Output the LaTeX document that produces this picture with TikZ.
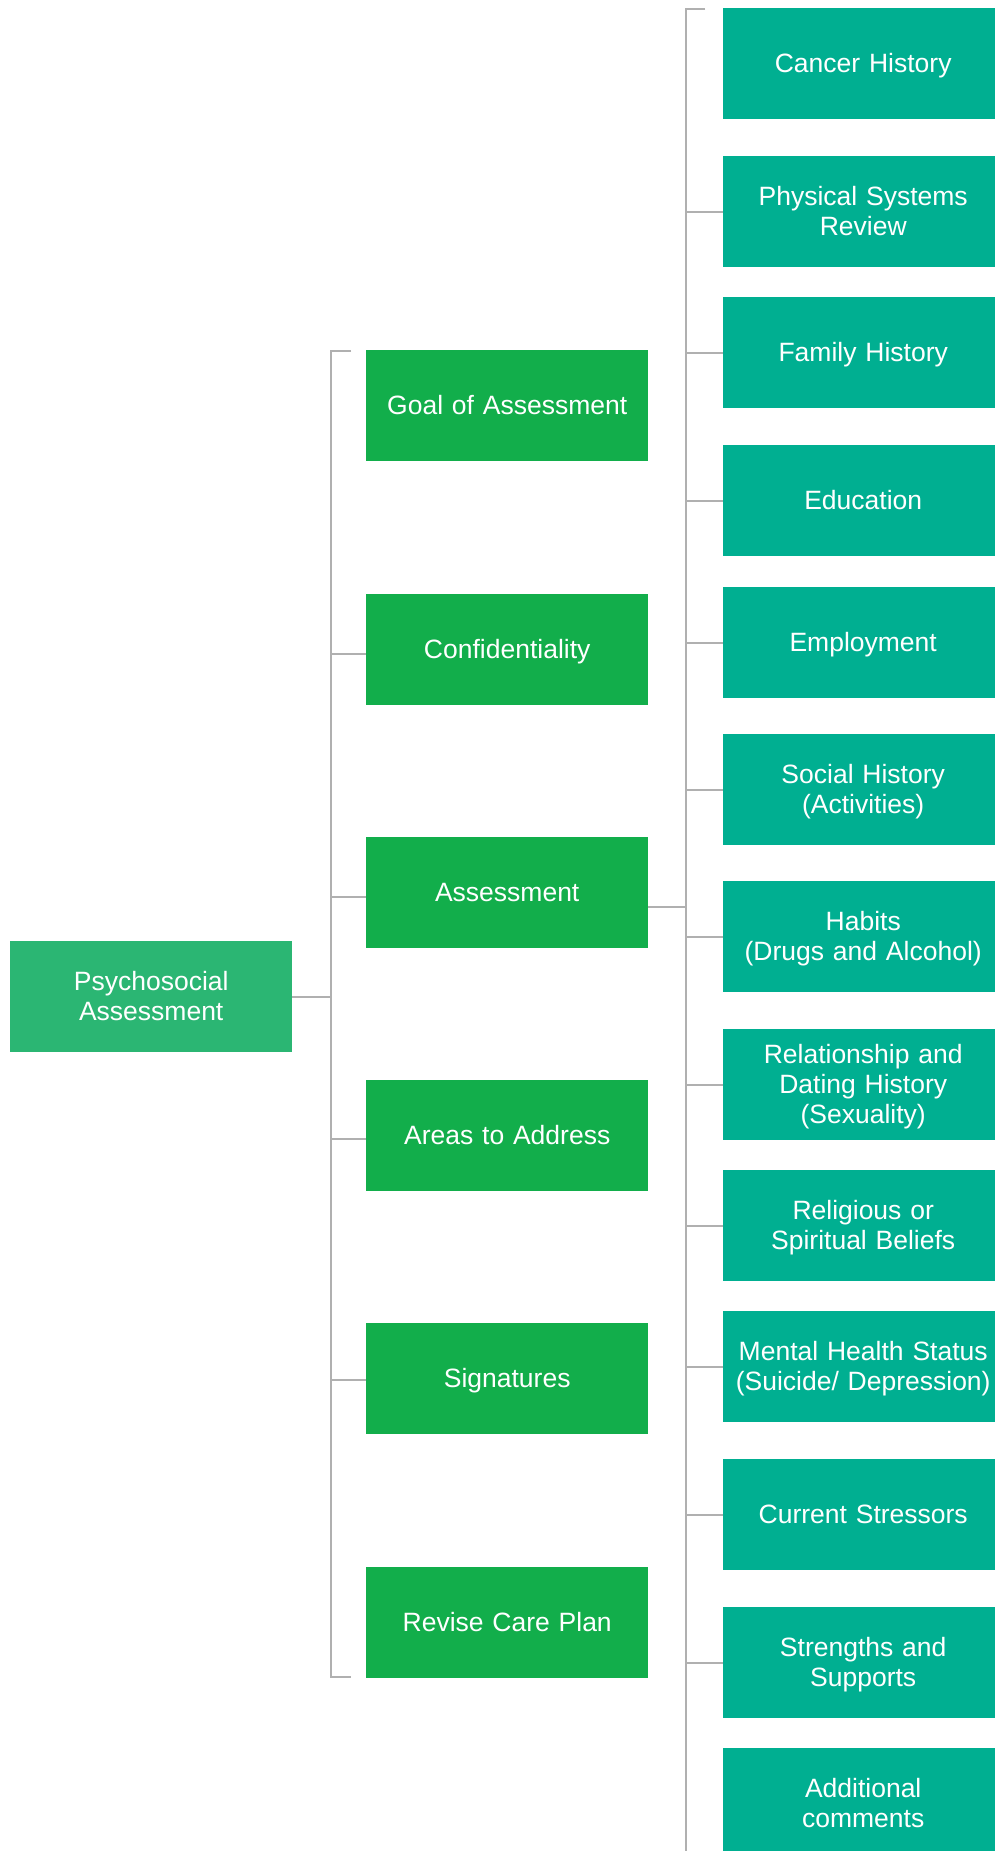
\documentclass[tikz,border=0pt]{standalone}
\usepackage{fontspec}
\setmainfont[WordSpace=0.8]{Liberation Sans}
\definecolor{rcol}{RGB}{0,175,145}
\definecolor{mcol}{RGB}{18,174,75}
\definecolor{lcol}{RGB}{43,182,115}
\definecolor{linecol}{RGB}{176,176,176}
\newcommand\boxstrut{\rule[-5pt]{0pt}{28pt}}
\begin{document}
\begin{tikzpicture}[x=1pt,y=-1pt,
  box/.style={rectangle, inner sep=0pt, minimum height=111pt, align=center, text=white,
              font=\fontsize{26.5}{30}\selectfont, anchor=north west,
              execute at begin node=\boxstrut, execute at end node=\boxstrut},
  rbox/.style={box, fill=rcol, minimum width=280pt, text width=280pt},
  mbox/.style={box, fill=mcol, minimum width=282pt, text width=282pt},
  lbox/.style={box, fill=lcol, minimum width=282pt, text width=282pt},
  link/.style={draw=linecol, line width=2pt}]
\useasboundingbox (0,0) rectangle (995,1851);
\fill[white] (0,0) rectangle (995,1851);

% left
\node[lbox] (psy) at (10,941) {Psychosocial\\Assessment};

% middle
\node[mbox] (goal)   at (366,350)  {Goal of Assessment};
\node[mbox] (conf)   at (366,594)  {Confidentiality};
\node[mbox] (assess) at (366,837)  {Assessment};
\node[mbox] (areas)  at (366,1080) {Areas to Address};
\node[mbox] (sign)   at (366,1323) {Signatures};
\node[mbox] (revise) at (366,1567) {Revise Care Plan};

% right
\node[rbox] (r1)  at (723,8)    {Cancer History};
\node[rbox] (r2)  at (723,156)  {Physical Systems\\Review};
\node[rbox] (r3)  at (723,297)  {Family History};
\node[rbox] (r4)  at (723,445)  {Education};
\node[rbox] (r5)  at (723,587)  {Employment};
\node[rbox] (r6)  at (723,734)  {Social History\\(Activities)};
\node[rbox] (r7)  at (723,881)  {Habits\\(Drugs and Alcohol)};
\node[rbox] (r8)  at (723,1029) {Relationship and\\Dating History\\(Sexuality)};
\node[rbox] (r9)  at (723,1170) {Religious or\\Spiritual Beliefs};
\node[rbox] (r10) at (723,1311) {Mental Health Status\\(Suicide/ Depression)};
\node[rbox] (r11) at (723,1459) {Current Stressors};
\node[rbox] (r12) at (723,1607) {Strengths and\\Supports};
\node[rbox] (r13) at (723,1748) {Additional\\comments};

% middle bus
\coordinate (mtop) at (331,351);
\coordinate (mbot) at (331,1677);
\draw[link] (351,351) -- (mtop) -- (mbot) -- (351,1677);
\draw[link] (psy.east) -- (mtop |- psy.east);
\draw[link] (mtop |- 0,654)  -- (conf.west |- 0,654);
\draw[link] (mtop |- 0,897)  -- (assess.west |- 0,897);
\draw[link] (mtop |- 0,1139) -- (areas.west |- 0,1139);
\draw[link] (mtop |- 0,1380) -- (sign.west |- 0,1380);

% right bus
\coordinate (rtop) at (686,9);
\coordinate (rbot) at (686,1860);
\draw[link] (705,9) -- (rtop) -- (rbot);
\draw[link] (assess.east |- 0,907) -- (rtop |- 0,907);
\foreach \n in {r2,r3,r4,r5,r6,r7,r8,r9,r10,r11,r12}{
  \draw[link] (rtop |- \n.west) -- (\n.west);
}
\end{tikzpicture}
\end{document}
